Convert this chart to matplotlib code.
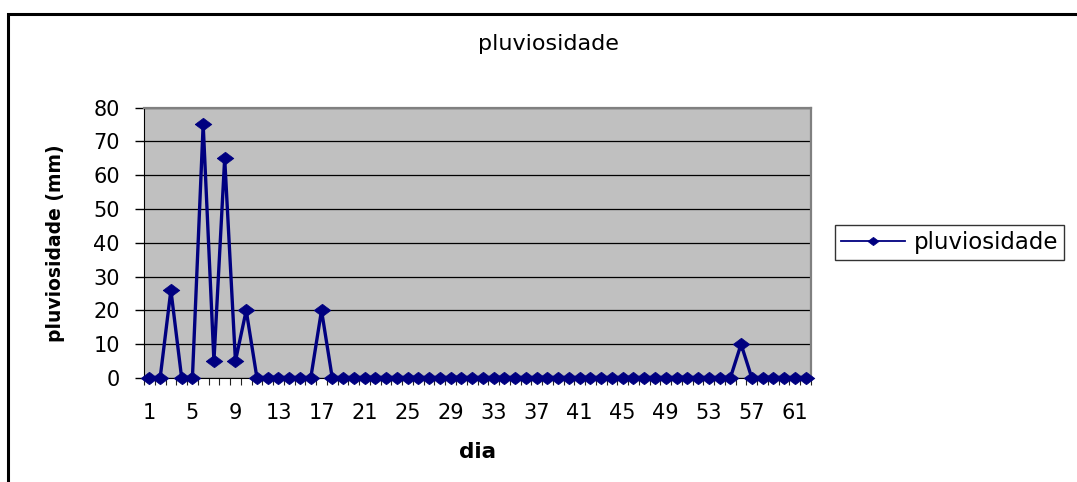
import matplotlib.pyplot as plt
from matplotlib.lines import Line2D
from matplotlib.patches import Rectangle

# daily rainfall (mm), days 1..62
days = list(range(1, 63))
rain = [0, 0, 26, 0, 0, 75, 5, 65, 5, 20,
        0, 0, 0, 0, 0, 0, 20, 0, 0, 0,
        0, 0, 0, 0, 0, 0, 0, 0, 0, 0,
        0, 0, 0, 0, 0, 0, 0, 0, 0, 0,
        0, 0, 0, 0, 0, 0, 0, 0, 0, 0,
        0, 0, 0, 0, 0, 10, 0, 0, 0, 0,
        0, 0]
x_labels = list(range(1, 63, 4))
y_ticks = [0, 10, 20, 30, 40, 50, 60, 70, 80]

navy = "#000080"
diamond = [(-1, 0), (0, 0.75), (1, 0), (0, -0.75), (-1, 0)]

W, H = 1077, 482
fig = plt.figure(figsize=(W / 100, H / 100), dpi=100)
fig.patch.set_facecolor("white")

# outer chart border (runs off right/bottom edge like the original)
fig.patches.append(Rectangle((7.5 / W, -0.05), 1.2, (H - 14) / H + 0.05,
                             transform=fig.transFigure, fill=False,
                             edgecolor="black", linewidth=2.2))

ax = fig.add_axes([144 / W, 1 - 378 / H, (811 - 144) / W, (378 - 107.5) / H])
ax.set_facecolor("#C0C0C0")

ax.plot(days, rain, color=navy, linewidth=2.4, marker=diamond,
        markersize=12, markerfacecolor=navy, markeredgecolor=navy,
        markeredgewidth=0.5, clip_on=False, zorder=3)

ax.set_xlim(0.5, 62.5)
ax.set_ylim(0, 80)

# y axis
ax.set_yticks(y_ticks)
ax.yaxis.grid(True, color="black", linewidth=0.9)
ax.set_axisbelow(True)
ax.tick_params(axis="y", direction="out", length=6.5, width=1,
               pad=11, labelsize=15)

# x axis: tick marks at category boundaries, labels every 4th day
ax.set_xticks([d + 0.5 for d in [0] + days])
ax.set_xticklabels([])
ax.set_xticks(x_labels, minor=True)
ax.set_xticklabels([str(v) for v in x_labels], minor=True)
ax.tick_params(axis="x", which="major", direction="out", length=5,
               width=0.8, color="#222222")
ax.tick_params(axis="x", which="minor", length=0, pad=18, labelsize=15)

for s in ["top", "right"]:
    ax.spines[s].set_color("#808080")
    ax.spines[s].set_linewidth(1.6)
ax.spines["left"].set_color("black")
ax.spines["bottom"].set_color("black")

ax.set_ylabel("pluviosidade (mm)", fontsize=13.5, fontweight="bold")
ax.yaxis.set_label_coords(-0.118, 0.5)
ax.set_xlabel("dia", fontsize=15.5, fontweight="bold", va="top")
ax.xaxis.set_label_coords(0.5, -0.235)

fig.text(548 / W, 1 - 44 / H, "pluviosidade", ha="center", va="center",
         fontsize=16)

handle = Line2D([], [], color=navy, linewidth=1.3, marker=diamond,
                markersize=8, markerfacecolor=navy, markeredgewidth=0.5)
leg = fig.legend(handles=[handle], labels=["pluviosidade"],
                 loc="center left", bbox_to_anchor=(835 / W, 1 - 242.5 / H),
                 fontsize=16.5, frameon=True, fancybox=False,
                 handlelength=2.8, handletextpad=0.4, borderpad=0.25,
                 borderaxespad=0)
leg.get_frame().set_edgecolor("black")
leg.get_frame().set_linewidth(1.0)

plt.savefig("out.png", dpi=100)
plt.close()
